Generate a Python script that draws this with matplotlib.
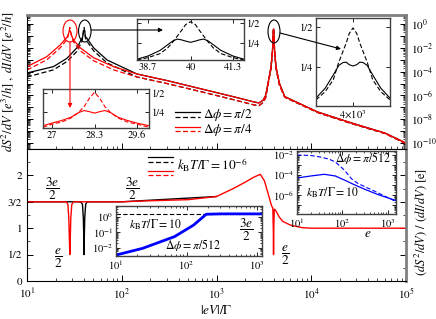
import numpy as np
import matplotlib
matplotlib.use('Agg')
import matplotlib.pyplot as plt
from matplotlib.patches import Ellipse, FancyArrowPatch
from matplotlib.lines import Line2D
from matplotlib.ticker import FixedLocator, FixedFormatter, LogLocator, NullFormatter

plt.rcParams['font.family'] = ['STIXGeneral', 'DejaVu Serif']
plt.rcParams['mathtext.fontset'] = 'stix'
plt.rcParams['font.size'] = 7.5

# ---------------- data ----------------
# top panel: dI/dV (solid) and dS^2/dV (dashed), log10 values
x_red = [10, 16.2, 22.4, 26.4, 27.0, 27.57, 27.95, 28.3, 28.65, 29.03, 29.6, 31, 36.5, 50.5, 82,
         145, 300, 700, 1500, 2500, 2800, 3100, 3300, 3500, 3760, 3900, 3940, 3985, 4000, 4015,
         4060, 4100, 4250, 4600, 5250, 11700, 26300, 60000, 100000]
red_solid_log = [-3.58, -2.74, -1.76, -1.1, -0.98, -0.74, -0.57, -0.63, -0.57, -0.74, -0.98, -1.34, -2.0, -2.83, -3.58,
                 -4.2, -4.75, -5.46, -6.1, -6.55, -6.63, -6.4, -6.0, -4.95, -3.6, -2.2, -1.26, -0.55, -0.59, -0.55,
                 -1.26, -2.2, -3.6, -4.95, -6.1, -7.39, -8.3, -9.16, -10.0]
red_dash_log = [-3.86, -3.0, -2.0, -1.3, -1.05, -0.77, -0.52, -0.29, -0.52, -0.77, -1.05, -1.5, -2.25, -3.08, -3.85,
                -4.45, -5.0, -5.7, -6.35, -6.8, -6.86, -6.6, -6.2, -5.1, -3.75, -2.35, -1.36, -0.45, -0.30, -0.45,
                -1.36, -2.35, -3.75, -5.1, -6.15, -7.44, -8.35, -9.2, -10.05]

x_blk = [10, 19, 26.4, 33.6, 38.0, 38.7, 39.2, 39.6, 40.0, 40.4, 40.9, 41.3, 43, 50.5, 70,
         145, 300, 700, 1500, 2500, 2800, 3100, 3300, 3500, 3760, 3900, 3940, 3985, 4000, 4015,
         4060, 4100, 4250, 4600, 5250, 11700, 26300, 60000, 100000]
blk_solid_log = [-4.11, -3.58, -2.88, -2.0, -1.2, -1.05, -0.75, -0.52, -0.59, -0.52, -0.75, -1.05, -1.2, -2.0, -3.02,
                 -4.2, -4.75, -5.46, -6.1, -6.55, -6.63, -6.4, -6.0, -4.95, -3.6, -2.2, -1.26, -0.55, -0.59, -0.55,
                 -1.26, -2.2, -3.6, -4.95, -6.1, -7.39, -8.3, -9.16, -10.0]
blk_dash_log = [-4.45, -3.85, -3.15, -2.3, -1.45, -1.15, -0.8, -0.47, -0.29, -0.47, -0.8, -1.15, -1.45, -2.25, -3.27,
                -4.45, -5.0, -5.7, -6.35, -6.8, -6.86, -6.6, -6.2, -5.1, -3.75, -2.35, -1.36, -0.45, -0.30, -0.45,
                -1.36, -2.35, -3.75, -5.1, -6.15, -7.44, -8.35, -9.2, -10.05]

# inset 1 (black, around 40)
x_in1 = [38.36, 38.7, 39.07, 39.3, 39.47, 39.6, 39.73, 39.85, 40.0, 40.15, 40.27, 40.4, 40.53, 40.7, 40.93, 41.3, 41.64]
in1_solid = [0.05, 0.09, 0.16, 0.23, 0.28, 0.30, 0.29, 0.275, 0.26, 0.275, 0.29, 0.30, 0.28, 0.23, 0.16, 0.09, 0.05]
in1_dash = [0.04, 0.07, 0.12, 0.19, 0.27, 0.34, 0.41, 0.48, 0.516, 0.48, 0.41, 0.34, 0.27, 0.19, 0.12, 0.07, 0.04]
# inset 2 (red, around 28.3)
x_in2 = [26.72, 27.0, 27.3, 27.57, 27.8, 27.98, 28.14, 28.3, 28.46, 28.62, 28.8, 29.03, 29.3, 29.6, 29.97]
in2_solid = [0.07, 0.105, 0.14, 0.18, 0.24, 0.27, 0.255, 0.236, 0.255, 0.27, 0.24, 0.18, 0.14, 0.105, 0.07]
in2_dash = [0.05, 0.09, 0.12, 0.17, 0.24, 0.32, 0.43, 0.51, 0.43, 0.32, 0.24, 0.17, 0.12, 0.09, 0.05]
# inset 3 (black, around 4x10^3)
x_in3 = [3940, 3955, 3968, 3977, 3984, 3989, 3994, 4000, 4006, 4011, 4016, 4023, 4032, 4045, 4060]
in3_solid = [0.055, 0.118, 0.20, 0.26, 0.278, 0.28, 0.264, 0.256, 0.264, 0.28, 0.278, 0.26, 0.20, 0.118, 0.055]
in3_dash = [0.044, 0.096, 0.17, 0.28, 0.35, 0.40, 0.46, 0.494, 0.46, 0.40, 0.35, 0.28, 0.17, 0.096, 0.044]

# bottom panel: ratio (dS^2/dV)/(dI/dV) in units of e
x_ratio_red = [10, 26, 27, 27.6, 28.0, 28.3, 28.6, 29.0, 29.7, 31, 100, 200, 500, 1000, 1500, 2000, 2500,
               2900, 3200, 3500, 3800, 3930, 3985, 4000, 4015, 4070, 4200, 4600, 5000, 6000, 8000, 10000, 100000]
ratio_red = [1.5, 1.5, 1.45, 1.2, 0.8, 0.5, 0.8, 1.2, 1.45, 1.5, 1.5, 1.52, 1.54, 1.6, 1.75, 1.87, 1.97,
             2.02, 1.9, 1.66, 1.43, 1.38, 0.9, 0.5, 0.9, 1.36, 1.34, 1.21, 1.13, 1.06, 1.01, 1.0, 1.0]
x_ratio_blk = [10, 37, 38.5, 39.3, 39.8, 40.0, 40.2, 40.7, 41.6, 43, 100, 1000]
ratio_blk = [1.5, 1.5, 1.45, 1.2, 0.8, 0.5, 0.8, 1.2, 1.45, 1.5, 1.5, 1.6]

# bottom-left inset (kT = 10, dphi = pi/512)
x_bl = [10, 23.8, 67.6, 126, 178, 190, 300, 1175]
bl_blue = [10**-2.46, 10**-2.03, 10**-1.28, 10**-0.54, 10**0.04, 1.42, 1.5, 1.5]
bl_level = 1.5
# bottom-right inset
x_br_solid = [10, 20, 40, 70, 130, 160, 300, 600, 1500]
br_solid_log = [-4.3, -4.1, -3.93, -4.1, -4.65, -4.85, -5.4, -5.95, -6.55]
x_br_dash = [10, 20, 30, 50, 70, 110, 160, 220, 500, 1500]
br_dash_log = [-2.0, -2.05, -2.17, -2.4, -2.7, -3.5, -4.4, -4.85, -5.6, -6.65]

RED = '#ff0000'
BLUE = '#0000ff'

# ---------------- figure ----------------
W, H = 436, 319
fig = plt.figure(figsize=(W / 100, H / 100), dpi=100)


def box(l, t, r, b):
    return [l / W, 1 - b / H, (r - l) / W, (b - t) / H]


def fx(x):
    return x / W


def fy(y):
    return 1 - y / H


def frame(ax, gray_sides=()):
    for s in ax.spines.values():
        s.set_color('black')
        s.set_linewidth(0.8)
    for s in gray_sides:
        ax.spines[s].set_color('#808080')
        ax.spines[s].set_linewidth(2.0)


# ---- top panel ----
ax_t = fig.add_axes(box(27, 15, 406, 149))
ax_t.set_xscale('log')
ax_t.set_yscale('log')
ax_t.plot(x_blk, 10 ** np.array(blk_solid_log), color='black', lw=0.9)
ax_t.plot(x_blk, 10 ** np.array(blk_dash_log), color='black', lw=0.9, dashes=(4, 2))
ax_t.plot(x_red, 10 ** np.array(red_solid_log), color=RED, lw=0.9)
ax_t.plot(x_red, 10 ** np.array(red_dash_log), color=RED, lw=0.9, dashes=(4, 2))
ax_t.set_xlim(10, 1e5)
ax_t.set_ylim(10 ** -10.5, 10 ** 0.76)
dec = [10.0 ** k for k in range(0, -11, -1)]
ax_t.yaxis.set_major_locator(FixedLocator(dec))
ax_t.yaxis.set_major_formatter(FixedFormatter(
    [r'$10^{%d}$' % k if k % 2 == 0 else '' for k in range(0, -11, -1)]))
ax_t.yaxis.set_minor_locator(LogLocator(base=10, subs=np.arange(2, 10), numticks=30))
ax_t.yaxis.set_minor_formatter(NullFormatter())
ax_t.tick_params(which='both', direction='in', left=True, right=True, top=False, bottom=True,
                 labelleft=False, labelright=True, labelbottom=False, labelsize=8)
ax_t.tick_params(which='major', length=4, width=0.7)
ax_t.tick_params(which='minor', length=2, width=0.5)
frame(ax_t, gray_sides=('top', 'right'))

# ---- bottom panel ----
ax_b = fig.add_axes(box(27, 149, 406, 281))
ax_b.set_xscale('log')
ax_b.plot(x_ratio_blk, ratio_blk, color='black', lw=1.0)
ax_b.plot(x_ratio_red, ratio_red, color=RED, lw=1.0)
ax_b.set_xlim(10, 1e5)
ax_b.set_ylim(0, 2.5)
ax_b.set_yticks([0, 0.5, 1, 1.5, 2])
ax_b.set_yticklabels(['0', '1/2', '1', '3/2', '2'])
ax_b.set_yticks(np.arange(0.25, 2.5, 0.5), minor=True)
ax_b.tick_params(which='both', direction='in', left=True, right=True, top=False, bottom=True, labelsize=8)
ax_b.tick_params(which='major', length=4, width=0.7)
ax_b.tick_params(which='minor', length=2, width=0.5)
ax_b.tick_params(axis='x', which='major', pad=4)
frame(ax_b, gray_sides=('right',))


# ---- top insets ----
def small_inset(rect, color, xs, ys, yd, xlim, ylim, xt, xtl, yside):
    ax = fig.add_axes(rect)
    ax.plot(xs, ys, color=color, lw=0.8)
    ax.plot(xs, yd, color=color, lw=0.8, dashes=(4, 2))
    ax.set_xlim(*xlim)
    ax.set_ylim(*ylim)
    ax.set_xticks(xt)
    ax.set_xticklabels(xtl)
    ax.set_yticks([0.25, 0.5])
    ax.set_yticklabels(['1/4', '1/2'])
    ax.tick_params(which='both', direction='in', left=True, right=True, top=True, bottom=True,
                   labelleft=(yside == 'left'), labelright=(yside == 'right'), labelsize=7.5,
                   length=3, width=0.6, pad=2)
    for s in ax.spines.values():
        s.set_color('#404040')
        s.set_linewidth(1.0)
    return ax


small_inset(box(137, 19, 244, 60), 'black', x_in1, in1_solid, in1_dash, (38.36, 41.64), (0.04, 0.55),
            [38.7, 40, 41.3], ['38.7', '40', '41.3'], 'right')
small_inset(box(43, 89, 149, 128), RED, x_in2, in2_solid, in2_dash, (26.72, 29.97), (0.04, 0.553),
            [27, 28.3, 29.6], ['27', '28.3', '29.6'], 'right')
small_inset(box(316, 18, 390, 106), 'black', x_in3, in3_solid, in3_dash, (3940, 4060), (0.006, 0.556),
            [4000], [r'$4{\times}10^3$'], 'left')

# ---- bottom-left inset ----
ax_bl = fig.add_axes(box(116, 206, 262, 256))
ax_bl.set_xscale('log')
ax_bl.set_yscale('log')
ax_bl.axhline(bl_level, color='black', lw=0.8, dashes=(4, 2))
ax_bl.plot(x_bl, bl_blue, color=BLUE, lw=2.0)
ax_bl.set_xlim(10, 1175)
ax_bl.set_ylim(10 ** -2.52, 10 ** 0.68)
ax_bl.yaxis.set_major_locator(FixedLocator([1e-2, 1e-1, 1e0]))
ax_bl.yaxis.set_minor_locator(LogLocator(base=10, subs=np.arange(2, 10), numticks=10))
ax_bl.yaxis.set_minor_formatter(NullFormatter())
ax_bl.tick_params(which='both', direction='in', left=True, right=True, top=True, bottom=True,
                  labelsize=7.5, pad=2)
ax_bl.tick_params(which='major', length=3, width=0.6)
ax_bl.tick_params(which='minor', length=1.5, width=0.5)
for s in ax_bl.spines.values():
    s.set_color('#404040')
    s.set_linewidth(1.0)

# ---- bottom-right inset ----
ax_br = fig.add_axes(box(297, 151, 396, 214))
ax_br.set_xscale('log')
ax_br.set_yscale('log')
ax_br.plot(x_br_dash, 10 ** np.array(br_dash_log), color=BLUE, lw=0.8, dashes=(4, 2))
ax_br.plot(x_br_solid, 10 ** np.array(br_solid_log), color=BLUE, lw=0.9)
ax_br.set_xlim(10, 10 ** 3.18)
ax_br.set_ylim(10 ** -7.9, 10 ** -1.6)
ax_br.yaxis.set_major_locator(FixedLocator([1e-2, 1e-3, 1e-4, 1e-5, 1e-6, 1e-7]))
ax_br.yaxis.set_major_formatter(FixedFormatter([r'$10^{-2}$', '', r'$10^{-4}$', '', r'$10^{-6}$', '']))
ax_br.yaxis.set_minor_locator(LogLocator(base=10, subs=np.arange(2, 10), numticks=12))
ax_br.yaxis.set_minor_formatter(NullFormatter())
ax_br.tick_params(which='both', direction='in', left=True, right=True, top=True, bottom=True,
                  labelsize=7.5, pad=2)
ax_br.tick_params(which='major', length=3, width=0.6)
ax_br.tick_params(which='minor', length=1.5, width=0.5)
for s in ax_br.spines.values():
    s.set_color('#404040')
    s.set_linewidth(1.0)

# ---- annotations: ellipses and arrows ----
for (cx, cy, w, h, c) in [(70, 31, 14, 22, RED), (84.8, 31, 12.5, 22, 'black'), (274, 31.5, 12, 23, 'black')]:
    fig.add_artist(Ellipse((fx(cx), fy(cy)), w / W, h / H, transform=fig.transFigure,
                           fill=False, edgecolor=c, lw=0.8))

for (p0, p1, c) in [((91, 30), (163, 30), 'black'), ((70, 42), (70, 108), RED), ((280, 33), (341, 49), 'black')]:
    fig.add_artist(FancyArrowPatch((fx(p0[0]), fy(p0[1])), (fx(p1[0]), fy(p1[1])),
                                   transform=fig.transFigure, arrowstyle='-|>', mutation_scale=6,
                                   color=c, lw=0.8, shrinkA=0, shrinkB=0))


# ---- legends (manual) ----
def legline(x0, x1, y, color, dashed):
    kw = dict(color=color, lw=0.9, transform=fig.transFigure)
    if dashed:
        kw['dashes'] = (4, 2)
    fig.add_artist(Line2D([fx(x0), fx(x1)], [fy(y), fy(y)], **kw))


legline(175, 200, 112, 'black', False)
legline(175, 200, 117, 'black', True)
legline(175, 200, 126.5, RED, False)
legline(175, 200, 131, RED, True)
fig.text(fx(203), fy(115.5), r'$\Delta\phi = \pi/2$', fontsize=9.5, va='center', ha='left')
fig.text(fx(203), fy(130), r'$\Delta\phi = \pi/4$', fontsize=9.5, va='center', ha='left')

legline(148, 173, 157, 'black', False)
legline(148, 173, 161.5, 'black', True)
legline(148, 173, 171, RED, False)
legline(148, 173, 175, RED, True)
fig.text(fx(177), fy(165), r'$k_\mathrm{B}T/\Gamma = 10^{-6}$', fontsize=9.5, va='center', ha='left')

# ---- labels in bottom panel ----
fs = 9.5
fig.text(fx(52), fy(189), r'$\dfrac{3e}{2}$', fontsize=fs, ha='center', va='center')
fig.text(fx(132), fy(189), r'$\dfrac{3e}{2}$', fontsize=fs, ha='center', va='center')
fig.text(fx(58), fy(258), r'$\dfrac{e}{2}$', fontsize=fs, ha='center', va='center')
fig.text(fx(285), fy(255), r'$\dfrac{e}{2}$', fontsize=fs, ha='center', va='center')
fig.text(fx(368), fy(234), r'$e$', fontsize=fs, ha='center', va='center')
fig.text(fx(246), fy(230), r'$\dfrac{3e}{2}$', fontsize=fs, ha='center', va='center')
fig.text(fx(155), fy(225), r'$k_\mathrm{B}T/\Gamma = 10$', fontsize=8.5, ha='center', va='center')
fig.text(fx(193), fy(245), r'$\Delta\phi = \pi/512$', fontsize=8.5, ha='center', va='center')
fig.text(fx(363), fy(158), r'$\Delta\phi = \pi/512$', fontsize=8.5, ha='center', va='center')
fig.text(fx(332), fy(193), r'$k_\mathrm{B}T/\Gamma = 10$', fontsize=8.5, ha='center', va='center')

# ---- axis labels ----
fig.text(fx(8), fy(82), r'$dS^2/dV\ [e^3/h]\ ,\ dI/dV\ [e^2/h]$', rotation=90, fontsize=9,
         ha='center', va='center')
fig.text(fx(421), fy(222), r'$(dS^2/dV)\ /\ (dI/dV)\ [\mathrm{e}]$', rotation=90, fontsize=9,
         ha='center', va='center')
fig.text(fx(216), fy(310), r'$|eV|/\Gamma$', fontsize=9.5, ha='center', va='center')

fig.savefig('out.png', dpi=100)
